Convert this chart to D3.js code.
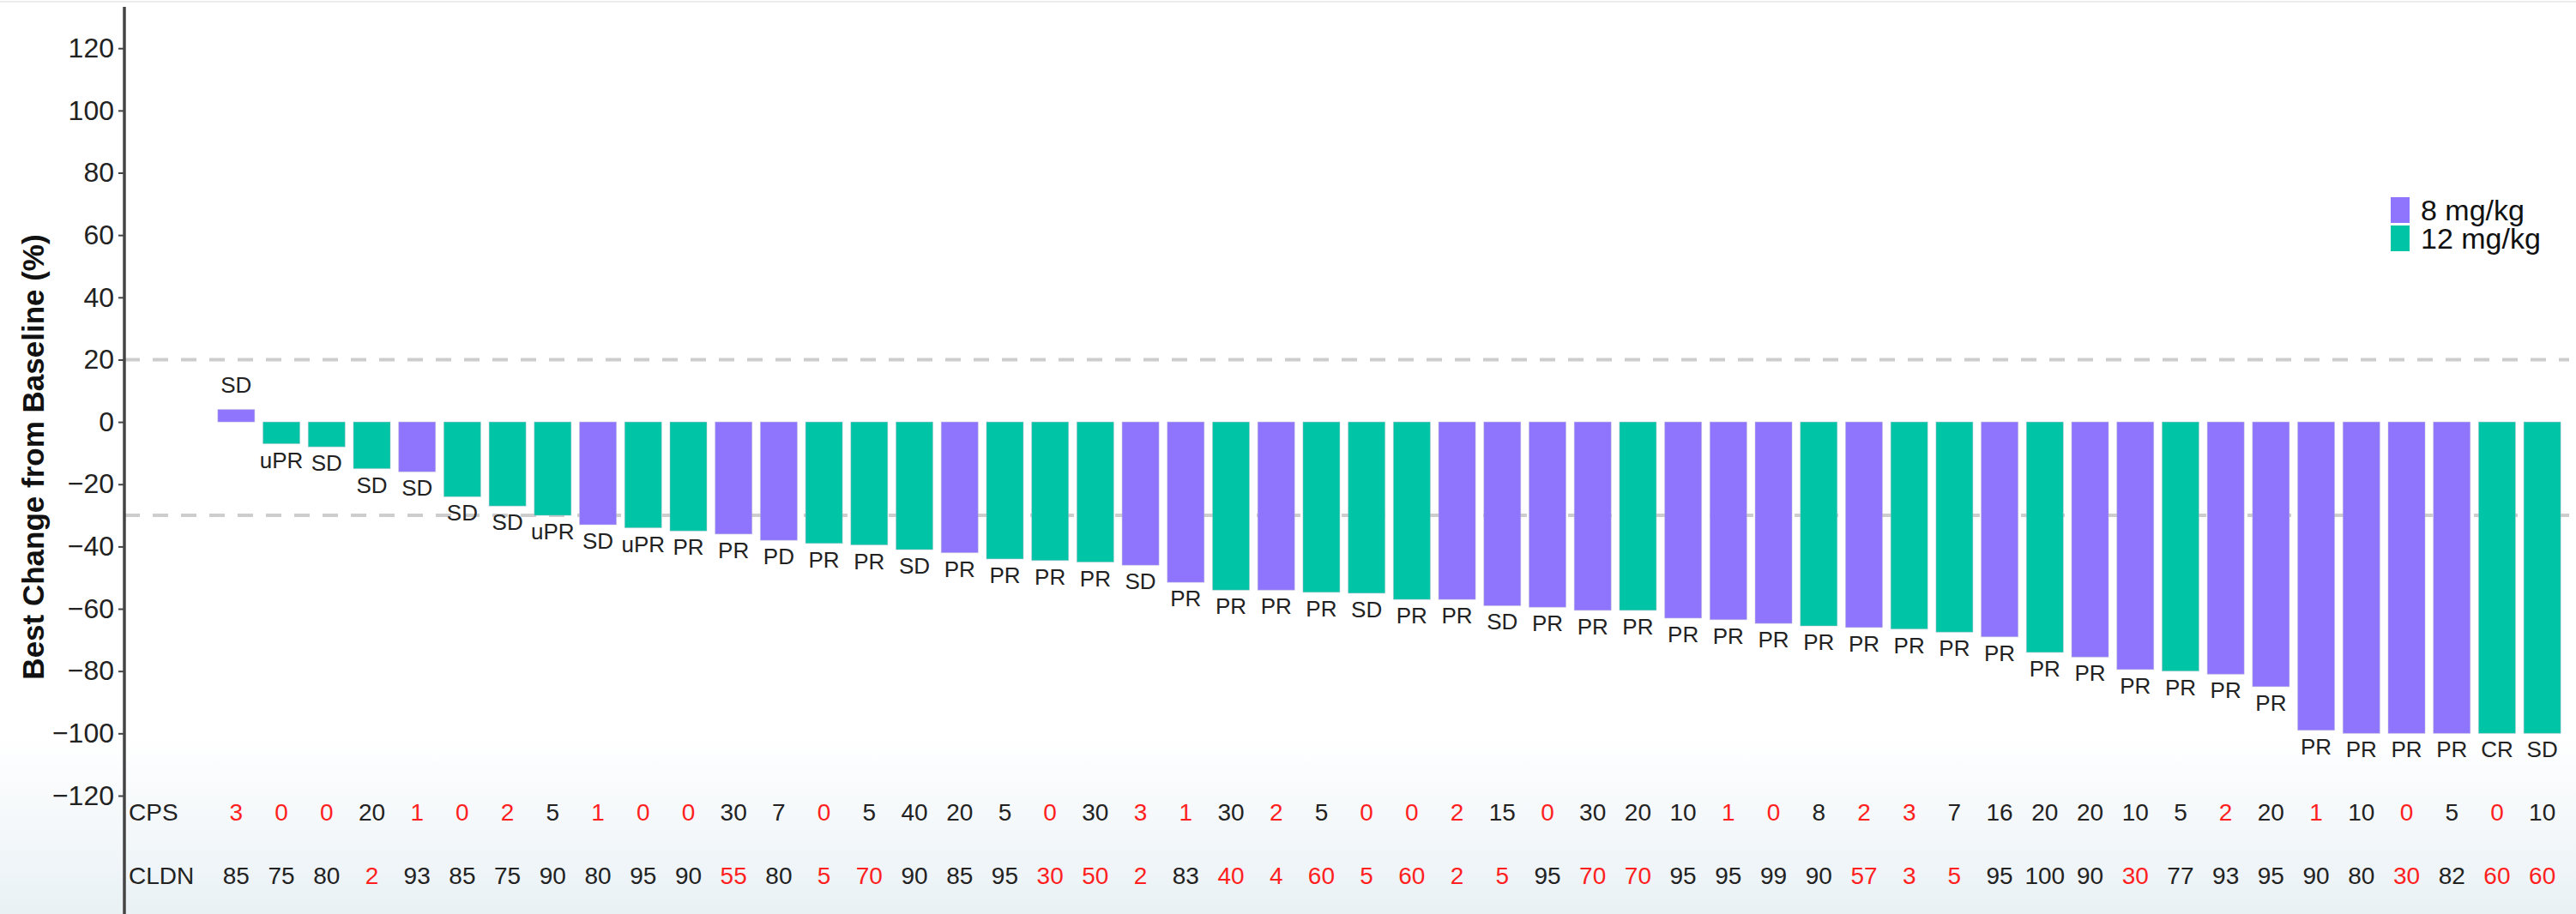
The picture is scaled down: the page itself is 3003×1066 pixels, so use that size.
<!DOCTYPE html>
<html>
<head>
<meta charset="utf-8">
<script src="https://cdn.jsdelivr.net/npm/d3@7"></script>
<style>
  html, body { margin: 0; padding: 0; background: #ffffff; }
  svg { display: block; font-family: "Liberation Sans", Arial, sans-serif; }
</style>
</head>
<body>
<svg id="chart" width="3003" height="1066"></svg>
<script>
// ---------------- data ----------------
const patients = d3.range(1, 53);
const bestChange = [4, -7, -8, -15, -16, -24, -27, -30, -33, -34,
  -35, -36, -38, -39, -39.5, -41, -42, -44, -44.5, -45,
  -46, -51.5, -54, -54, -54.7, -55, -57, -57, -59, -59.5,
  -60.5, -60.5, -63, -63.5, -64.7, -65.5, -66, -66.5, -67.5, -69,
  -74, -75.5, -79.5, -80, -81, -85, -99, -100, -100, -100,
  -100, -100];
const dose = [8, 12, 12, 12, 8, 12, 12, 12, 8, 12,
  12, 8, 8, 12, 12, 12, 8, 12, 12, 12,
  8, 8, 12, 8, 12, 12, 12, 8, 8, 8,
  8, 12, 8, 8, 8, 12, 8, 12, 12, 8,
  12, 8, 8, 12, 8, 8, 8, 8, 8, 8,
  12, 12];
const response = ["SD","uPR","SD","SD","SD","SD","SD","uPR","SD","uPR",
  "PR","PR","PD","PR","PR","SD","PR","PR","PR","PR",
  "SD","PR","PR","PR","PR","SD","PR","PR","SD","PR",
  "PR","PR","PR","PR","PR","PR","PR","PR","PR","PR",
  "PR","PR","PR","PR","PR","PR","PR","PR","PR","PR",
  "CR","SD"];
const cps = [3, 0, 0, 20, 1, 0, 2, 5, 1, 0,
  0, 30, 7, 0, 5, 40, 20, 5, 0, 30,
  3, 1, 30, 2, 5, 0, 0, 2, 15, 0,
  30, 20, 10, 1, 0, 8, 2, 3, 7, 16,
  20, 20, 10, 5, 2, 20, 1, 10, 0, 5,
  0, 10];
const cldn = [85, 75, 80, 2, 93, 85, 75, 90, 80, 95,
  90, 55, 80, 5, 70, 90, 85, 95, 30, 50,
  2, 83, 40, 4, 60, 5, 60, 2, 5, 95,
  70, 70, 95, 95, 99, 90, 57, 3, 5, 95,
  100, 90, 30, 77, 93, 95, 90, 80, 30, 82,
  60, 60];
const doseLabels = ["8 mg/kg", "12 mg/kg"];
const doseKeys = [8, 12];
const yTicks = [120, 100, 80, 60, 40, 20, 0, -20, -40, -60, -80, -100, -120];
const refLines = [20, -30];
const cpsCutoff = 5;    // values below shown in red
const cldnCutoff = 75;  // values below shown in red

// ---------------- layout ----------------
const W = 3003, H = 1066;
const axisX = 145;
const svg = d3.select("#chart");

const color = d3.scaleOrdinal().domain(doseKeys).range(["#8f75fd", "#00c4a6"]);
const x = d3.scaleBand().domain(patients).range([249, 2990]).paddingInner(0.184).paddingOuter(0.092);
const y = d3.scaleLinear().domain([-158, 133]).range([1066, 9]);

// background
const defs = svg.append("defs");
const grad = defs.append("linearGradient").attr("id", "bg").attr("x1", 0).attr("y1", 0).attr("x2", 0).attr("y2", 1);
grad.append("stop").attr("offset", "0").attr("stop-color", "#ffffff");
grad.append("stop").attr("offset", "1").attr("stop-color", "#e9f1f5");
svg.append("rect").attr("width", W).attr("height", H).attr("fill", "#ffffff");
svg.append("rect").attr("x", 0).attr("y", 860).attr("width", W).attr("height", H - 860).attr("fill", "url(#bg)");
svg.append("line").attr("x1", 0).attr("x2", W).attr("y1", 2).attr("y2", 2).attr("stroke", "#ececec").attr("stroke-width", 2);

// reference dashed lines
svg.append("g").selectAll("line").data(refLines).join("line")
  .attr("x1", axisX).attr("x2", 2995)
  .attr("y1", d => y(d)).attr("y2", d => y(d))
  .attr("stroke", "#cdcdcd").attr("stroke-width", 4).attr("stroke-dasharray", "18,15");

// bars
const idx = d3.range(patients.length);
svg.append("g").selectAll("rect").data(idx).join("rect")
  .attr("x", i => x(patients[i]))
  .attr("width", x.bandwidth())
  .attr("y", i => y(Math.max(0, bestChange[i])))
  .attr("height", i => Math.abs(y(bestChange[i]) - y(0)))
  .attr("fill", i => color(dose[i]))
  .attr("stroke", "rgba(190,190,210,0.45)").attr("stroke-width", 1);

// response labels
svg.append("g").selectAll("text").data(idx).join("text")
  .attr("x", i => x(patients[i]) + x.bandwidth() / 2)
  .attr("y", i => bestChange[i] >= 0 ? y(bestChange[i]) - 20 : y(bestChange[i]) + 28)
  .attr("text-anchor", "middle")
  .attr("font-size", 26).attr("fill", "#222")
  .text(i => response[i]);

// y axis
const yAxis = d3.axisLeft(y).tickValues(yTicks).tickSize(7).tickSizeOuter(0).tickFormat(d3.format("d"));
const gy = svg.append("g").attr("transform", `translate(${axisX},0)`).call(yAxis);
gy.select(".domain").remove();
gy.selectAll(".tick line").attr("stroke", "#444").attr("stroke-width", 2);
gy.selectAll(".tick text").attr("font-size", 32).attr("fill", "#222").attr("x", -12)
  .attr("font-family", "'Liberation Sans', Arial, sans-serif");
svg.append("line").attr("x1", axisX).attr("x2", axisX).attr("y1", 8).attr("y2", H)
  .attr("stroke", "#444").attr("stroke-width", 3.5);

// y axis title
svg.append("text")
  .attr("transform", "translate(51,533) rotate(-90)")
  .attr("text-anchor", "middle")
  .attr("font-size", 35).attr("font-weight", "bold").attr("fill", "#111")
  .text("Best Change from Baseline (%)");

// CPS / CLDN rows
const rows = [
  {name: "CPS", vals: cps, cut: cpsCutoff, yb: 957},
  {name: "CLDN", vals: cldn, cut: cldnCutoff, yb: 1031}
];
rows.forEach(r => {
  const g = svg.append("g");
  g.append("text").attr("x", 150).attr("y", r.yb).attr("font-size", 28).attr("fill", "#222").text(r.name);
  g.selectAll("text.v").data(idx).join("text").attr("class", "v")
    .attr("x", i => x(patients[i]) + x.bandwidth() / 2)
    .attr("y", r.yb)
    .attr("text-anchor", "middle")
    .attr("font-size", 28)
    .attr("fill", i => r.vals[i] < r.cut ? "#ff1f1f" : "#222")
    .text(i => r.vals[i]);
});

// legend
const lg = svg.append("g");
doseKeys.forEach((k, j) => {
  lg.append("rect").attr("x", 2787).attr("y", 230 + j * 33).attr("width", 22).attr("height", 30).attr("fill", color(k));
  lg.append("text").attr("x", 2822).attr("y", 257 + j * 33).attr("font-size", 34).attr("fill", "#111").text(doseLabels[j]);
});
</script>
</body>
</html>
